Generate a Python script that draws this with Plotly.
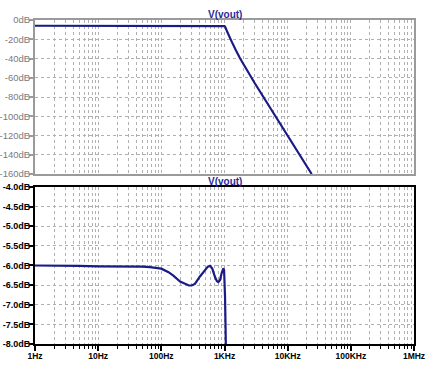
import plotly.graph_objects as go
from plotly.subplots import make_subplots

# ---- data ----
freq_hz = [1, 2, 5, 10, 20, 32, 50, 66, 100, 130, 155, 198, 240, 274, 302, 340,
           409, 490, 545, 590, 640, 710, 760, 800, 850, 900, 940, 960, 985,
           1000, 1020, 1040, 1055, 1100, 1200, 1300, 1500, 1760, 3000, 5000,
           10000, 24000]
vout_db = [-6.00, -6.00, -6.01, -6.02, -6.02, -6.02, -6.03, -6.04, -6.08, -6.17,
           -6.26, -6.41, -6.48, -6.51, -6.51, -6.47, -6.28, -6.11, -6.03, -6.01,
           -6.08, -6.30, -6.40, -6.42, -6.37, -6.20, -6.09, -6.07, -6.12,
           -6.30, -6.8, -7.6, -9.0, -12.0, -18.0, -22.5, -31.0, -39.8, -65.5,
           -88.5, -120.0, -160.0]

x_tickvals = [1, 10, 100, 1000, 10000, 100000, 1000000]
x_ticktext = ["1Hz", "10Hz", "100Hz", "1KHz", "10KHz", "100KHz", "1MHz"]
top_tickvals = [0, -20, -40, -60, -80, -100, -120, -140, -160]
top_ticktext = ["0dB", "-20dB", "-40dB", "-60dB", "-80dB", "-100dB", "-120dB", "-140dB", "-160dB"]
bot_tickvals = [-4.0, -4.5, -5.0, -5.5, -6.0, -6.5, -7.0, -7.5, -8.0]
bot_ticktext = ["-4.0dB", "-4.5dB", "-5.0dB", "-5.5dB", "-6.0dB", "-6.5dB", "-7.0dB", "-7.5dB", "-8.0dB"]
trace_name = "V(vout)"

LINE = "#1b1b86"
GRID = "#b0b0b0"
FONT = "Liberation Sans, Arial, sans-serif"

fig = make_subplots(rows=2, cols=1)
fig.add_trace(go.Scatter(x=freq_hz, y=vout_db, mode="lines", name=trace_name,
                         line=dict(color=LINE, width=2.2)), row=1, col=1)
fig.add_trace(go.Scatter(x=freq_hz, y=vout_db, mode="lines", name=trace_name,
                         line=dict(color=LINE, width=2.2)), row=2, col=1)

grid_common = dict(showgrid=True, gridcolor=GRID, griddash="dot", gridwidth=1,
                   zeroline=False, automargin=False)

fig.update_layout(
    width=435, height=369,
    margin=dict(l=35, r=21, t=20, b=25),
    paper_bgcolor="white", plot_bgcolor="white",
    showlegend=False,
    font=dict(family=FONT),
    xaxis=dict(type="log", range=[0, 6], domain=[0, 1], anchor="y",
               showline=True, mirror=True, linecolor="#9a9a9a", linewidth=2,
               showticklabels=False, ticks="", tickvals=x_tickvals,
               minor=dict(dtick="D1", showgrid=True, gridcolor=GRID, griddash="dot", ticks=""),
               **grid_common),
    yaxis=dict(range=[-160, 0], domain=[0.5247, 1.0], anchor="x",
               showline=True, mirror=True, linecolor="#9a9a9a", linewidth=2,
               tickvals=top_tickvals, ticktext=top_ticktext,
               ticks="outside", ticklen=4, tickcolor="#9a9a9a", tickwidth=1.5,
               ticklabelstandoff=-3,
               tickfont=dict(size=9.5, color="#7a7a7a", family=FONT),
               **grid_common),
    xaxis2=dict(type="log", range=[0, 6], domain=[0, 1], anchor="y2",
                showline=True, mirror=True, linecolor="black", linewidth=2,
                tickvals=x_tickvals, ticktext=x_ticktext,
                ticks="outside", ticklen=5, tickcolor="black", tickwidth=1.5,
                ticklabelstandoff=-2,
                tickfont=dict(size=8.5, color="black", family=FONT, weight="bold"),
                minor=dict(dtick="D1", showgrid=True, gridcolor=GRID, griddash="dot",
                           ticks="outside", ticklen=3, tickcolor="black", tickwidth=1.2),
                **grid_common),
    yaxis2=dict(range=[-8, -4], domain=[0, 0.4846], anchor="x2",
                showline=True, mirror=True, linecolor="black", linewidth=2,
                tickvals=bot_tickvals, ticktext=bot_ticktext,
                ticks="outside", ticklen=4, tickcolor="black", tickwidth=1.5,
                ticklabelstandoff=-3,
                tickfont=dict(size=9, color="black", family=FONT, weight="bold"),
                **grid_common),
)

for ypos in [1.0185, 0.503]:
    fig.add_annotation(x=0.5, y=ypos, xref="paper", yref="paper", text="<b>%s</b>" % trace_name,
                       showarrow=False, xanchor="center", yanchor="middle",
                       font=dict(size=10, color="#2a2a9c", family=FONT))

fig.write_html("out.html", config={"displayModeBar": False},
               post_script="document.body.style.margin='0';")
